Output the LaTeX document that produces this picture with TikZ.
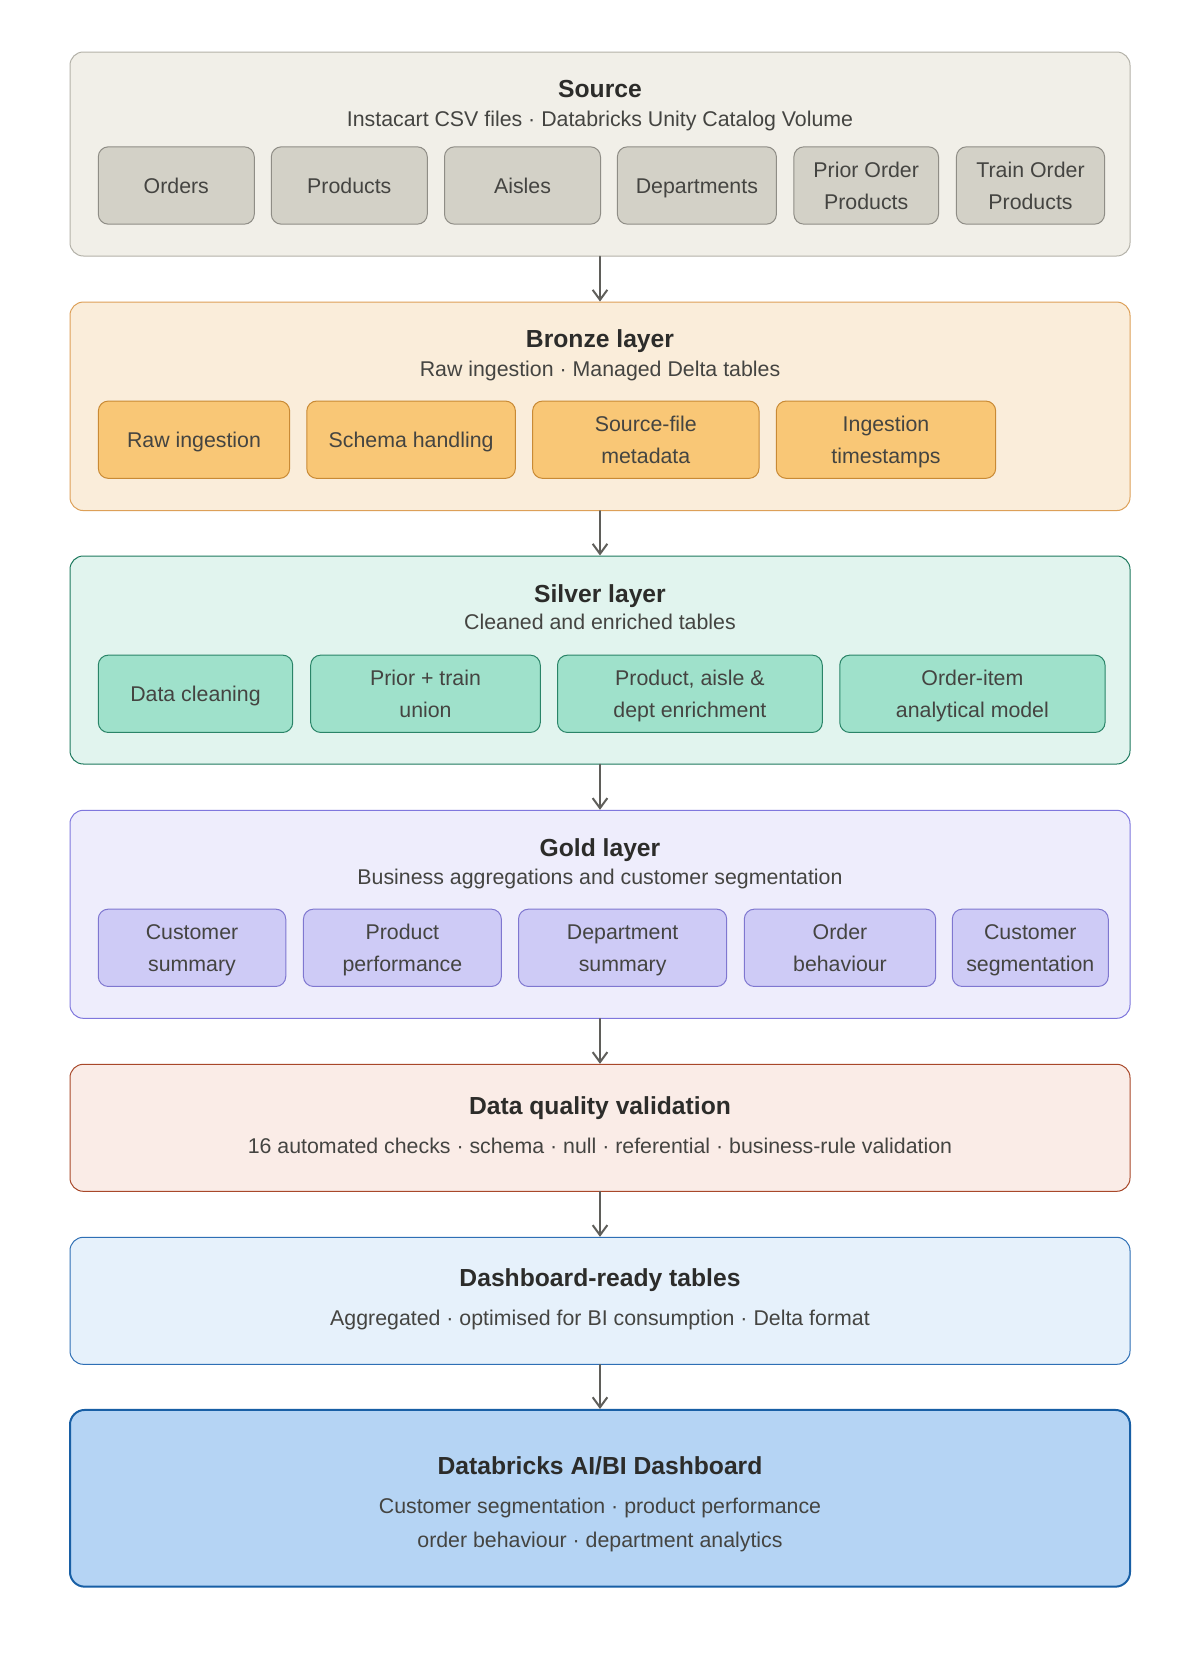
\documentclass[tikz,border=0pt]{standalone}
\usepackage{fontspec}
\setmainfont{Liberation Sans}
\usepackage{tikz}
\usetikzlibrary{arrows.meta,positioning}
\definecolor{ink}{HTML}{2C2C2A}
\definecolor{ink2}{HTML}{444441}
\definecolor{arrowc}{HTML}{5F5E5A}
\definecolor{srcfill}{HTML}{F1EFE8}
\definecolor{srcdraw}{HTML}{B4B2A9}
\definecolor{srcin}{HTML}{D3D1C7}
\definecolor{srcindraw}{HTML}{8F8D86}
\definecolor{brzfill}{HTML}{FAEDDA}
\definecolor{brzdraw}{HTML}{DDA058}
\definecolor{brzin}{HTML}{F9C776}
\definecolor{brzindraw}{HTML}{C98A35}
\definecolor{slvfill}{HTML}{E1F4EE}
\definecolor{slvdraw}{HTML}{1F7A5F}
\definecolor{slvin}{HTML}{9FE1CB}
\definecolor{slvindraw}{HTML}{2A8468}
\definecolor{gldfill}{HTML}{EEEDFC}
\definecolor{glddraw}{HTML}{7F77DD}
\definecolor{gldin}{HTML}{CECBF6}
\definecolor{gldindraw}{HTML}{7F77D0}
\definecolor{dqfill}{HTML}{FAECE7}
\definecolor{dqdraw}{HTML}{A8482A}
\definecolor{dshfill}{HTML}{E6F1FB}
\definecolor{dshdraw}{HTML}{2E6FB5}
\definecolor{bifill}{HTML}{B5D4F4}
\definecolor{bidraw}{HTML}{185FA5}
% same strut on every line so one- and two-line boxes centre alike
\newcommand{\itemstrut}{\rule[-6.15pt]{0pt}{23.8pt}}
\newcommand{\twolines}[2]{\itemstrut#1\\#2}
\tikzset{
  every picture/.style={line cap=round, line join=round},
  wd/.style={minimum width=#1*0.75pt},
  ht/.style={minimum height=#1*0.75pt},
  layer/.style={rectangle, rounded corners=10pt, line width=0.75pt, inner sep=0pt,
    minimum width=795pt},
  item/.style={rectangle, rounded corners=7.5pt, line width=0.75pt, inner sep=2pt,
    align=center, text=ink2, font=\fontsize{16}{23.8}\selectfont, minimum height=58pt,
    execute at begin node=\itemstrut, execute at end node=\itemstrut},
  srcbox/.style={layer, draw=srcdraw, fill=srcfill},
  srcitem/.style={item, draw=srcindraw, fill=srcin},
  brzbox/.style={layer, draw=brzdraw, fill=brzfill},
  brzitem/.style={item, draw=brzindraw, fill=brzin},
  slvbox/.style={layer, draw=slvdraw, fill=slvfill},
  slvitem/.style={item, draw=slvindraw, fill=slvin},
  gldbox/.style={layer, draw=glddraw, fill=gldfill},
  glditem/.style={item, draw=gldindraw, fill=gldin},
  ttl/.style={anchor=base, text=ink, font=\fontsize{18.5}{22}\selectfont\bfseries, inner sep=0pt},
  sub/.style={anchor=base, text=ink2, font=\fontsize{16}{20}\selectfont, inner sep=0pt},
  flow/.style={-{Straight Barb[length=7.5pt,width=11pt,line width=1.5pt]}, draw=arrowc, line width=1.5pt},
}
\begin{document}
\begin{tikzpicture}[x=0.75pt, y=-0.75pt]
  \useasboundingbox[fill=white] (0,0) rectangle (1200,1656);

  % ---------------- source ----------------
  \node[srcbox, ht=204] (src) at (600,154) {};
  \node[ttl] (srcT) at (600,97.3) {Source};
  \node[sub] (srcS) at (600,126) {Instacart CSV files · Databricks Unity Catalog Volume};
  \node[srcitem, wd=156] (orders) at (176.3,185.5) {Orders};
  \node[srcitem, wd=156] (products) at (349.3,185.5) {Products};
  \node[srcitem, wd=156] (aisles) at (522.5,185.5) {Aisles};
  \node[srcitem, wd=159] (depts) at (696.9,185.5) {Departments};
  \node[srcitem, wd=144.6] (prior) at (866.2,185.5) {\twolines{Prior Order}{Products}};
  \node[srcitem, wd=148.1] (train) at (1030.5,185.5) {\twolines{Train Order}{Products}};

  % ---------------- bronze ----------------
  \node[brzbox, ht=208.5] (brz) at (600,406.3) {};
  \node[ttl] (brzT) at (600,347.8) {Bronze layer};
  \node[sub] (brzS) at (600,376) {Raw ingestion · Managed Delta tables};
  \node[brzitem, wd=191.3] (raw) at (194,439.7) {Raw ingestion};
  \node[brzitem, wd=208.6] (schema) at (411.1,439.7) {Schema handling};
  \node[brzitem, wd=226.4] (srcmeta) at (645.8,439.7) {\twolines{Source-file}{metadata}};
  \node[brzitem, wd=219.4] (ingts) at (886,439.7) {\twolines{Ingestion}{timestamps}};

  % ---------------- silver ----------------
  \node[slvbox, ht=208] (slv) at (600,660) {};
  \node[ttl] (slvT) at (600,602.4) {Silver layer};
  \node[sub] (slvS) at (600,629.6) {Cleaned and enriched tables};
  \node[slvitem, wd=194.4] (clean) at (195.5,693.8) {Data cleaning};
  \node[slvitem, wd=229.6] (union) at (425.5,693.8) {\twolines{Prior + train}{union}};
  \node[slvitem, wd=264.8] (enrich) at (689.9,693.8) {\twolines{Product, aisle \&}{dept enrichment}};
  \node[slvitem, wd=265.3] (model) at (972.4,693.8) {\twolines{Order-item}{analytical model}};

  % ---------------- gold ----------------
  \node[gldbox, ht=208] (gld) at (600,914.3) {};
  \node[ttl] (gldT) at (600,856.8) {Gold layer};
  \node[sub] (gldS) at (600,884.3) {Business aggregations and customer segmentation};
  \node[glditem, wd=187.5] (custsum) at (192,947.8) {\twolines{Customer}{summary}};
  \node[glditem, wd=197.9] (prodperf) at (402.4,947.8) {\twolines{Product}{performance}};
  \node[glditem, wd=208.2] (deptsum) at (622.6,947.8) {\twolines{Department}{summary}};
  \node[glditem, wd=191.4] (orderbeh) at (840,947.8) {\twolines{Order}{behaviour}};
  \node[glditem, wd=156] (custseg) at (1030.3,947.8) {\twolines{Customer}{segmentation}};

  % ---------------- checks, tables, dashboard ----------------
  \node[layer, draw=dqdraw, fill=dqfill, ht=127] (dq) at (600,1127.8) {};
  \node[ttl] (dqT) at (600,1114) {Data quality validation};
  \node[sub] (dqS) at (600,1153.3) {16 automated checks · schema · null · referential · business-rule validation};

  \node[layer, draw=dshdraw, fill=dshfill, ht=127] (dash) at (600,1300.8) {};
  \node[ttl] (dashT) at (600,1286.8) {Dashboard-ready tables};
  \node[sub] (dashS) at (600,1325.6) {Aggregated · optimised for BI consumption · Delta format};

  \node[layer, draw=bidraw, fill=bifill, line width=1.5pt, rounded corners=11pt, ht=176.7] (bi) at (600,1498.3) {};
  \node[ttl] (biT) at (600,1474) {Databricks AI/BI Dashboard};
  \node[sub] (biS1) at (600,1513.3) {Customer segmentation · product performance};
  \node[sub] (biS2) at (600,1547.3) {order behaviour · department analytics};

  % flow between the layers
  \draw[flow] (src) -- (brz);
  \draw[flow] (brz) -- (slv);
  \draw[flow] (slv) -- (gld);
  \draw[flow] (gld) -- (dq);
  \draw[flow] (dq) -- (dash);
  \draw[flow] (dash) -- (bi);
\end{tikzpicture}
\end{document}
